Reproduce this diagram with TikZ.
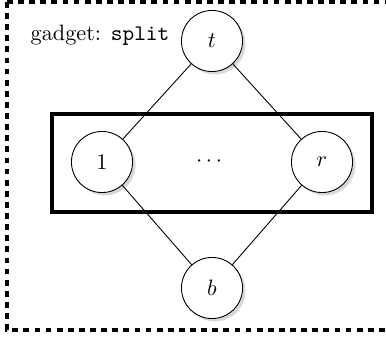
\documentclass[tikz,border=0pt]{standalone}
\usetikzlibrary{shadows}
\begin{document}
\begin{tikzpicture}[x=0.45pt,y=-0.45pt,
  vtx/.style={circle,draw,thin,fill=white,minimum size=27.5pt,inner sep=0pt,
    drop shadow={shadow xshift=1.3pt,shadow yshift=-1.3pt,fill=black!30}},
  edge/.style={draw,thin},
  frame/.style={draw,line width=1.5pt,dash pattern=on 2.6pt off 2.4pt},
  group/.style={draw,line width=1.5pt}]
\useasboundingbox (0,0) rectangle (386,343);
\draw[frame] (7,2) -- (395,2) (7,2) -- (7,330) -- (395,330);
\draw[group] (52,114) rectangle (372,212);
\node[vtx] (t) at (212,41) {$t$};
\node[vtx] (one) at (102,162) {$1$};
\node[vtx] (r) at (322,162) {$r$};
\node[vtx] (b) at (212,288) {$b$};
\node (dots) at (209,162) {$\cdots$};
\node (lab) at (100,35) {gadget: \texttt{split}};
\draw[edge] (t) -- (one);
\draw[edge] (t) -- (r);
\draw[edge] (one) -- (b);
\draw[edge] (r) -- (b);
\end{tikzpicture}
\end{document}
